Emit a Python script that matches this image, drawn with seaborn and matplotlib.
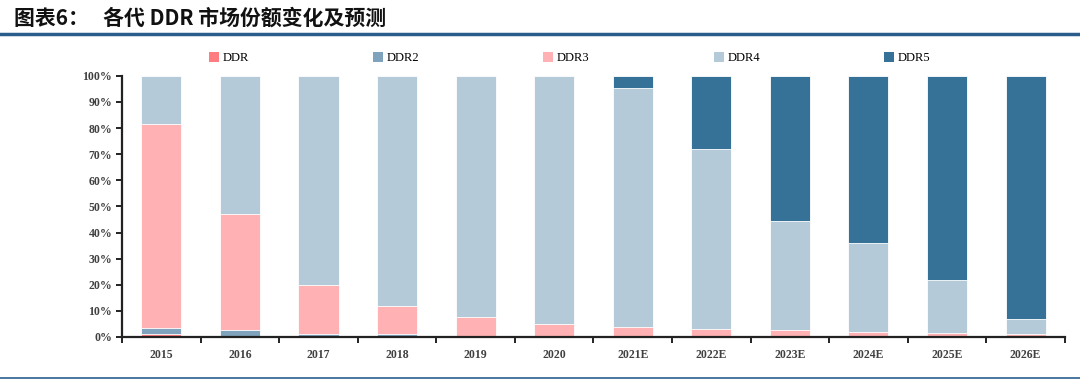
import seaborn as sns
import pandas as pd
import matplotlib.pyplot as plt
from matplotlib.patches import Patch
from matplotlib.lines import Line2D
from matplotlib.ticker import PercentFormatter, FixedLocator

years = ['2015', '2016', '2017', '2018', '2019', '2020',
         '2021E', '2022E', '2023E', '2024E', '2025E', '2026E']
ddr = [1.0, 0.5, 0, 0, 0, 0, 0, 0, 0, 0, 0, 0]
ddr2 = [2.5, 2.0, 1.0, 1.0, 0, 0, 0, 0, 0, 0, 0, 0]
ddr3 = [78.0, 44.5, 19.0, 11.0, 7.5, 5.0, 4.0, 3.0, 2.5, 2.0, 1.5, 1.0]
ddr4 = [18.5, 53.0, 80.0, 88.0, 92.5, 95.0, 91.5, 69.0, 42.0, 34.0, 20.5, 6.0]
ddr5 = [0, 0, 0, 0, 0, 0, 4.5, 28.0, 55.5, 64.0, 77.8, 93.0]

series = ['DDR', 'DDR2', 'DDR3', 'DDR4', 'DDR5']
colors = ['#ff7c80', '#7fa3bd', '#ffb1b4', '#b5cad9', '#367297']

df = pd.DataFrame({'year': years, 'DDR': ddr, 'DDR2': ddr2, 'DDR3': ddr3,
                   'DDR4': ddr4, 'DDR5': ddr5})
cum = df[series].cumsum(axis=1)

plt.rcParams['font.family'] = ['Liberation Serif', 'DejaVu Serif']

fig = plt.figure(figsize=(10.8, 3.84), dpi=100)
ax = fig.add_axes([0.113, 0.1224, 0.873, 0.68])

# stacked bars: draw cumulative totals from the top layer down
for name, col in reversed(list(zip(series, colors))):
    sns.barplot(x=df['year'], y=cum[name], color=col, width=0.51,
                saturation=1, edgecolor='white', linewidth=0.6, ax=ax)

ax.set_ylim(0, 100)
ax.set_xlim(-0.5, len(years) - 0.5)
ax.set_yticks(range(0, 101, 10))
ax.yaxis.set_major_formatter(PercentFormatter(decimals=0))
ax.set_xlabel('')
ax.set_ylabel('')
for s in ['top', 'right']:
    ax.spines[s].set_visible(False)
for s in ['left', 'bottom']:
    ax.spines[s].set_linewidth(1.6)
    ax.spines[s].set_color('#222222')
ax.xaxis.set_minor_locator(FixedLocator([i - 0.5 for i in range(len(years) + 1)]))
ax.tick_params(axis='x', which='major', length=0, pad=9)
ax.tick_params(axis='x', which='minor', length=4, width=1.4, direction='out', color='#222222')
ax.tick_params(axis='y', length=4, width=1.4, direction='out', color='#222222', pad=3)
for lab in ax.get_xticklabels() + ax.get_yticklabels():
    lab.set_fontsize(8.5)
    lab.set_fontweight('bold')
    lab.set_color('#404040')

handles = [Patch(facecolor=c, edgecolor='none') for c in colors]
fig.legend(handles, series, loc='lower left', bbox_to_anchor=(0.189, 0.82, 0.677, 0.08),
           mode='expand', ncol=5, frameon=False, fontsize=9, handlelength=0.8,
           handleheight=0.8, handletextpad=0.3, borderaxespad=0)

fig.text(0.013, 0.953, '图表6：   各代 DDR 市场份额变化及预测', fontsize=15, fontweight='bold',
         family=['Noto Sans CJK SC', 'DejaVu Sans'], color='#111111', va='center')
fig.add_artist(Line2D([0, 1], [0.912, 0.912], color='#2a5d8c', linewidth=2.5))
fig.add_artist(Line2D([0, 1], [0.016, 0.016], color='#2a5d8c', linewidth=1.2))

fig.savefig('out.png', dpi=100)
